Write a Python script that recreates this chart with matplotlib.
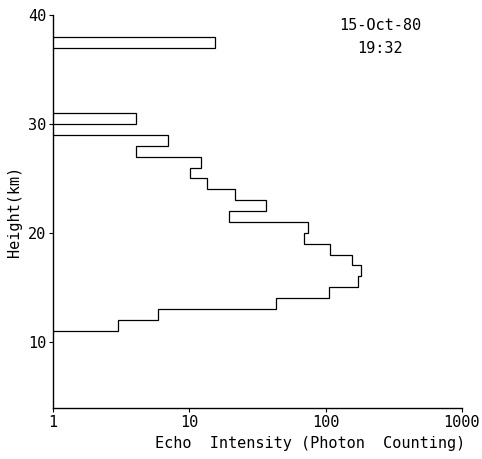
import matplotlib
matplotlib.use("Agg")
import matplotlib.pyplot as plt

# Height bins (km) and echo intensity (photon counts)
bin_bottom = [37, 30, 28, 27, 26, 25, 24, 23, 22, 21, 20, 19, 18, 17, 16, 15, 14, 13, 12, 11]
bin_top    = [38, 31, 29, 28, 27, 26, 25, 24, 23, 22, 21, 20, 19, 18, 17, 16, 15, 14, 13, 12]
intensity  = [15.5, 4.06, 7.0, 4.06, 12.1, 10.2, 13.4, 21.7, 36.7, 19.5, 74, 70, 107, 157, 183, 172, 106, 43, 5.9, 3.0]

x_ticks = [1, 10, 100, 1000]
x_tick_labels = ["1", "10", "100", "1000"]
y_ticks = [10, 20, 30, 40]
date_text = "15-Oct-80"
time_text = "19:32"

plt.rcParams['font.family'] = ['DejaVu Sans Mono']

fig = plt.figure(figsize=(4.82, 4.59), dpi=100)
ax = fig.add_axes([0.110, 0.111, 0.848, 0.856])

# group contiguous bins into separate profile segments
segments = []
cur = [0]
for i in range(1, len(bin_bottom)):
    if bin_top[i] == bin_bottom[i - 1]:
        cur.append(i)
    else:
        segments.append(cur)
        cur = [i]
segments.append(cur)

base = x_ticks[0]
for seg in segments:
    xs = [base]
    ys = [bin_top[seg[0]]]
    for i in seg:
        xs += [intensity[i], intensity[i]]
        ys += [bin_top[i], bin_bottom[i]]
    xs.append(base)
    ys.append(bin_bottom[seg[-1]])
    ax.plot(xs, ys, color="black", lw=0.9, solid_joinstyle="miter")

ax.set_xscale("log")
ax.set_xlim(1, 1000)
ax.set_ylim(3.9, 40)
ax.set_xticks(x_ticks)
ax.set_xticklabels(x_tick_labels)
ax.minorticks_off()
ax.set_yticks(y_ticks)
ax.spines["top"].set_visible(False)
ax.spines["right"].set_visible(False)
for s in ("left", "bottom"):
    ax.spines[s].set_linewidth(1.0)
ax.tick_params(axis="both", direction="out", length=3, width=0.8, labelsize=11, pad=2)

ax.set_xlabel("Echo  Intensity (Photon  Counting)", fontsize=11, labelpad=4, x=0.63)
ax.set_ylabel("Height(km)", fontsize=11, labelpad=4)

ax.text(0.80, 0.992, date_text, transform=ax.transAxes, ha="center", va="top", fontsize=11)
ax.text(0.80, 0.934, time_text, transform=ax.transAxes, ha="center", va="top", fontsize=11)

fig.savefig("out.png", dpi=100)
